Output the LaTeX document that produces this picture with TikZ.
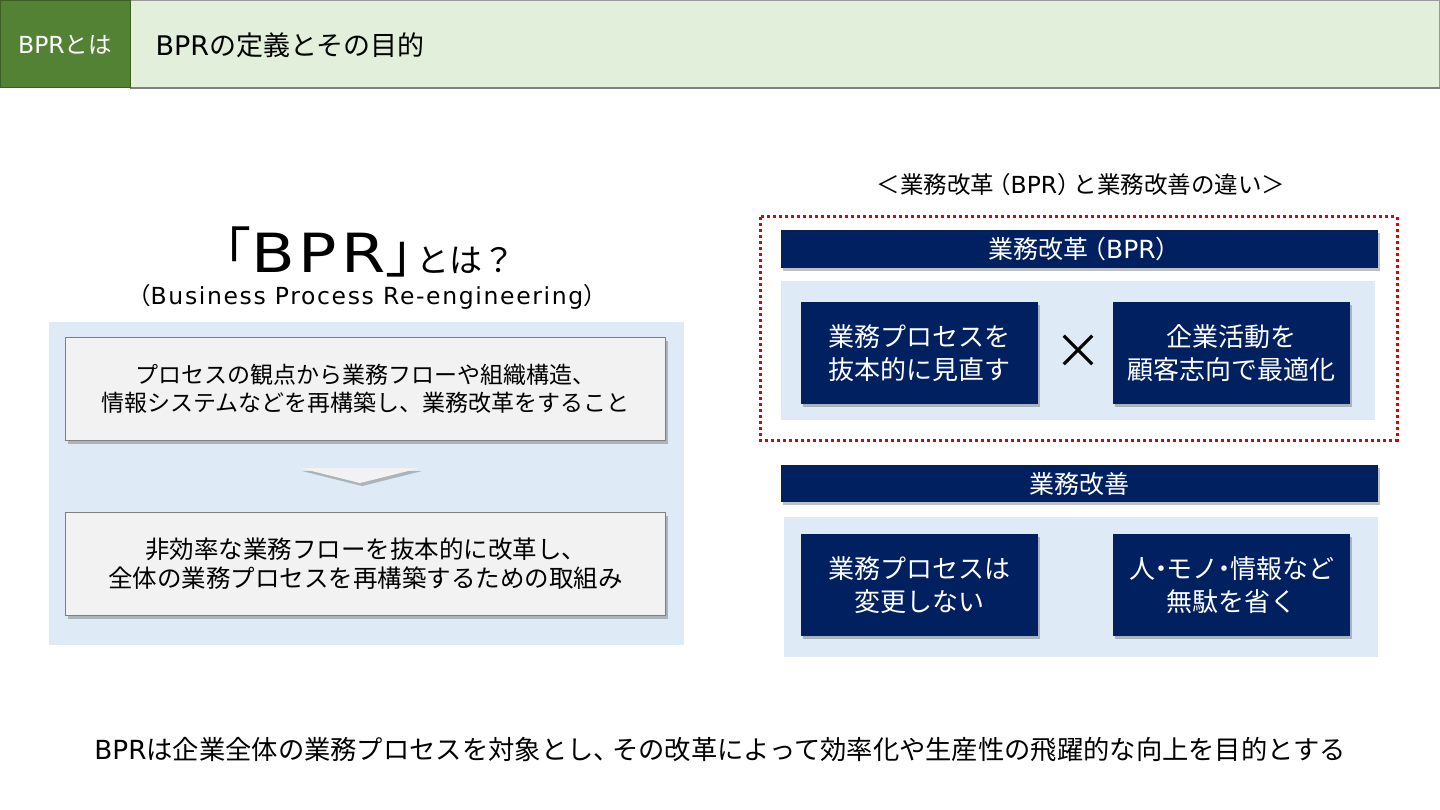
\documentclass[tikz,border=0pt]{standalone}
\usepackage{fontspec}
\setmainfont{Noto Sans CJK JP}
\newfontfamily\lat{DejaVu Sans}
\newfontfamily\latsp{DejaVu Sans}[LetterSpace=7]
\newfontfamily\latwide{DejaVu Sans}[FakeStretch=1.18]
\usetikzlibrary{shadows,positioning}
\definecolor{hdgreen}{HTML}{548235}
\definecolor{hdgreendk}{HTML}{3B5E25}
\definecolor{hdlight}{HTML}{E2EFDA}
\definecolor{navy}{HTML}{002060}
\definecolor{paleblue}{HTML}{DEEBF7}
\definecolor{boxgray}{HTML}{F2F2F2}
\definecolor{edgegray}{HTML}{7F7F7F}
\definecolor{reddot}{HTML}{E00000}
\newcommand{\nd}{\kern-0.28em・\kern-0.28em}
\tikzset{
  sh/.style={drop shadow={shadow xshift=2pt,shadow yshift=-3pt,opacity=0.35,fill=black!70}},
  panel/.style={fill=paleblue,draw=none,inner sep=0pt},
  graybox/.style={fill=boxgray,draw=edgegray,line width=1pt,sh,inner sep=0pt,align=center},
  navybox/.style={fill=navy,draw=none,sh,inner sep=0pt,align=center,text=white,font=\fontsize{26}{33}\selectfont},
  navyhead/.style={fill=navy,draw=none,sh,inner sep=0pt,text=white,font=\fontsize{25}{28}\selectfont},
}
\begin{document}
\begin{tikzpicture}[x=1pt,y=-1pt]
\useasboundingbox (0,0) rectangle (1440,810);
\fill[white] (0,0) rectangle (1440,810);
% header
\draw[fill=hdlight,draw=edgegray!80,line width=1pt] (130,0.5) rectangle (1439.5,88);
\draw[edgegray,line width=2pt] (130,88) -- (1440,88);
\draw[fill=hdgreen,draw=hdgreendk,line width=1pt] (0.5,0.5) rectangle (130,88);
\node[text=white,font=\fontsize{23.5}{26}\selectfont] (tag) at (65,45) {{\lat BPR}とは};
\node[anchor=west,font=\fontsize{27}{30}\selectfont] (title) at (152,45) {{\lat BPR}の定義とその目的};
% left heading
\node[inner sep=0pt,anchor=base west] (big) at (197,273)
  {\fontsize{54}{60}\selectfont 「{\latwide B\kern4pt P\kern4pt R}」\kern-23pt\fontsize{33}{40}\selectfont とは？};
\node[font=\fontsize{23.5}{26}\selectfont] (sub) at (367,297) {（{\latsp Business Process Re-engineering}）};
% left panel
\node[panel,minimum width=635pt,minimum height=323pt,anchor=north west] (lp) at (49,322) {};
\node[graybox,minimum width=600pt,minimum height=103pt,anchor=north west,font=\fontsize{23}{28}\selectfont] (b1) at (65,337)
  {プロセスの観点から業務フローや組織構造、\\情報システムなどを再構築し、業務改革をすること};
\node[graybox,minimum width=600pt,minimum height=103pt,anchor=north west,font=\fontsize{24.5}{29}\selectfont] (b2) at (65,512)
  {非効率な業務フローを抜本的に改革し、\\全体の業務プロセスを再構築するための取組み};
\coordinate (al) at (300,468);
\coordinate (ar) at (420,468);
\coordinate (at) at (360,483);
\fill[boxgray,sh] (al) -- (ar) -- (at) -- cycle;
% right caption
\node[font=\fontsize{23.5}{26}\selectfont] (cap) at (1081,185) {＜業務改革\kern-0.3em（{\lat BPR}）\kern-0.3em と業務改善の違い＞};
% BPR group
\draw[reddot,line width=3pt,dash pattern=on 3pt off 3pt] (760,217) rectangle (1397,440);
\node[navyhead,minimum width=597pt,minimum height=38pt,anchor=north west] (h1) at (781,230) {業務改革\kern-0.3em（{\lat BPR}）\kern-0.4em};
\node[panel,minimum width=594pt,minimum height=139pt,anchor=north west] (p1) at (781,281) {};
\node[navybox,minimum width=237pt,minimum height=102pt,anchor=north west] (n1) at (801,302) {業務プロセスを\\抜本的に見直す};
\node[navybox,minimum width=237pt,minimum height=102pt,anchor=north west] (n2) at (1113,302) {企業活動を\\顧客志向で最適化};
\node[font=\fontsize{48}{50}\selectfont,inner sep=0pt] (times) at (1078,352) {×};
% improvement group
\node[navyhead,minimum width=597pt,minimum height=37pt,anchor=north west] (h2) at (781,465) {業務改善};
\node[panel,minimum width=594pt,minimum height=140pt,anchor=north west] (p2) at (784,517) {};
\node[navybox,minimum width=237pt,minimum height=102pt,anchor=north west] (n3) at (801,534) {業務プロセスは\\変更しない};
\node[navybox,minimum width=237pt,minimum height=102pt,anchor=north west] (n4) at (1113,534) {人\nd モノ\nd 情報など\\無駄を省く};
% bottom
\node[font=\fontsize{26.3}{30}\selectfont] (foot) at (720,750) {{\lat BPR}は企業全体の業務プロセスを対象とし、\kern-0.3emその改革によって効率化や生産性の飛躍的な向上を目的とする};
\end{tikzpicture}
\end{document}
